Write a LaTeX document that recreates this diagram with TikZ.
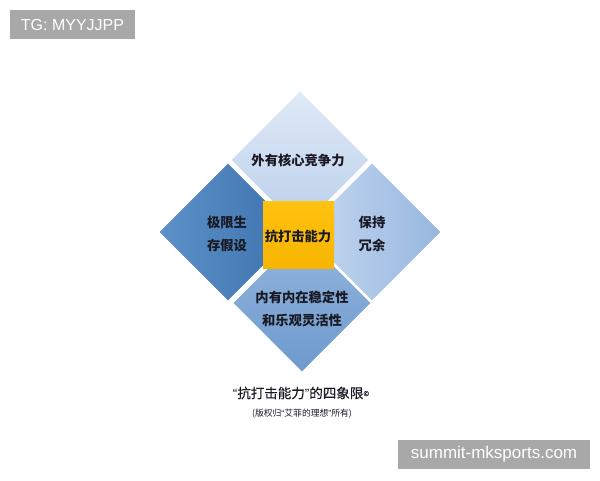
\documentclass[tikz,border=0pt]{standalone}
\usepackage{fontspec}
\setmainfont{Liberation Sans}
\newfontfamily\cjk{Noto Sans CJK SC}
\newfontfamily\cjkm{Noto Sans CJK SC}[FakeBold=0.4]
\usetikzlibrary{shapes.geometric}
\definecolor{wmgray}{HTML}{A8A8A8}
\definecolor{inktext}{HTML}{1A1A24}
\definecolor{gold}{HTML}{FFC20E}
\definecolor{golddark}{HTML}{F7B500}
\definecolor{topA}{HTML}{DFEAF7}
\definecolor{topB}{HTML}{BACFEA}
\definecolor{leftA}{HTML}{5C91C9}
\definecolor{leftB}{HTML}{3C71AD}
\definecolor{rightA}{HTML}{C6D9F1}
\definecolor{rightB}{HTML}{97B6DF}
\definecolor{botA}{HTML}{93B5DD}
\definecolor{botB}{HTML}{6E9ACE}
\newcommand{\myLq}{{\rmfamily “}}
\newcommand{\myRq}{{\rmfamily ”}}
\tikzset{
  quad/.style={shape=diamond, aspect=1, inner sep=0pt, minimum width=137pt, minimum height=137pt, draw=none},
  lbl/.style={font=\cjk\bfseries\fontsize{13.3}{23}\selectfont, text=inktext, align=center, inner sep=0pt},
  wm/.style={fill=wmgray, text=white, inner sep=0pt, font=\fontsize{16}{18}\selectfont}
}
\begin{document}
\begin{tikzpicture}[x=1pt,y=-1pt]
\useasboundingbox (0,0) rectangle (600,480);
\fill[white] (0,0) rectangle (600,480);
% quadrants
\node[quad, top color=topA, bottom color=topB] (qtop) at (300,160) {};
\node[quad, left color=leftA, right color=leftB] (qleft) at (228,232) {};
\node[quad, left color=rightA, right color=rightB] (qright) at (372,232) {};
\node[quad, top color=botA, bottom color=botB] (qbot) at (302,303) {};
% centre square
\node[draw=none, inner sep=0pt, minimum width=71pt, minimum height=67pt, top color=gold, bottom color=golddark] (core) at (298.5,234.5) {};
% labels
\node[lbl] (ttop) at (298,160) {外有核心竞争力};
\node[lbl] (tleft) at (227,233.5) {极限生\\存假设};
\node[lbl] (tright) at (372,234) {保持\\冗余};
\node[lbl] (tcore) at (298,236) {抗打击能力};
\node[lbl] (tbot) at (302,308.5) {内有内在稳定性\\和乐观灵活性};
% captions
\node[font=\cjkm\fontsize{13.5}{16}\selectfont, text=inktext, inner sep=0pt] (cap) at (301,393) {\myLq 抗打击能力\myRq 的四象限\raisebox{2pt}{\fontsize{7}{8}\selectfont ©}};
\node[font=\cjk\fontsize{8.8}{10}\selectfont, text=inktext, inner sep=0pt] (sub) at (302,414) {(版权归\myLq 艾菲的理想\myRq 所有)};
% watermarks
\node[wm, minimum width=125pt, minimum height=29pt] (tg) at (72.5,24.5) {TG: MYYJJPP};
\node[wm, minimum width=192pt, minimum height=29pt, font=\fontsize{17}{19}\selectfont] (site) at (494,454.5) {summit-mksports.com};
\end{tikzpicture}
\end{document}
